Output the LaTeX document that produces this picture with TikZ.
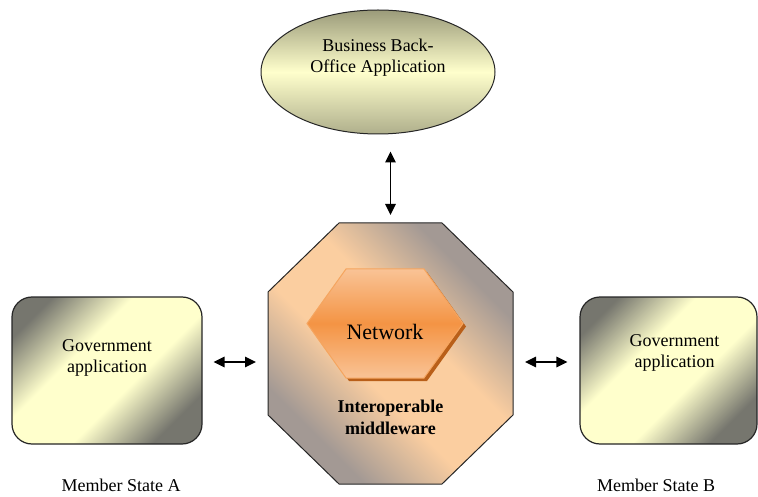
\documentclass[tikz,border=0pt]{standalone}
\usepackage{fontspec}
\setmainfont{Liberation Serif}
\usetikzlibrary{positioning,arrows.meta,shapes.geometric,shadows}

\definecolor{mwpeach}{RGB}{251,206,160}
\definecolor{mwgray}{RGB}{163,153,148}
\definecolor{appyellow}{RGB}{255,255,204}
\definecolor{appgray}{RGB}{118,118,110}
\definecolor{ovaltop}{RGB}{155,155,122}
\definecolor{ovalbottom}{RGB}{175,175,140}
\definecolor{netlight}{RGB}{249,195,150}
\definecolor{netmid}{RGB}{244,148,68}
\definecolor{netline}{RGB}{245,165,95}
\definecolor{netshadow}{RGB}{185,95,25}

\pgfdeclareverticalshading{mwshade}{100bp}{color(0bp)=(mwgray); color(28bp)=(mwgray); color(43bp)=(mwpeach); color(57bp)=(mwpeach); color(72bp)=(mwgray); color(100bp)=(mwgray)}
\pgfdeclareverticalshading{appshade}{100bp}{color(0bp)=(appgray); color(25bp)=(appgray); color(42bp)=(appyellow); color(60bp)=(appyellow); color(77bp)=(appgray); color(100bp)=(appgray)}

\begin{document}
\begin{tikzpicture}[x=1pt, y=-1pt, on grid,
    lbl/.style={font=\fontsize{18}{21}\selectfont, align=center, inner sep=0pt},
    frame/.style={rectangle, inner sep=0pt, outer sep=0pt},
    appbox/.style={rectangle, draw=black!85, line width=1.2pt, rounded corners=20pt,
        shade, shading=appshade, shading angle=45, minimum height=147pt},
    oval/.style={ellipse, draw=black!85, line width=1pt, inner sep=0pt,
        top color=ovaltop, bottom color=ovalbottom, middle color=appyellow,
        minimum width=234pt, minimum height=124pt},
    octo/.style={draw=black!85, line width=1pt, shade, shading=mwshade, shading angle=-45},
    hexa/.style={draw=netline, line width=1pt,
        top color=netlight, bottom color=netlight, middle color=netmid,
        drop shadow={shadow xshift=3pt, shadow yshift=-3pt, fill=netshadow, opacity=1}},
    arrow/.style={{Triangle[length=11pt,width=10.5pt]}-{Triangle[length=11pt,width=10.5pt]}, line width=1.6pt}]

\useasboundingbox (0,0) rectangle (758,497);

% middleware in the centre, everything else placed around it
\node[frame, minimum width=245pt, minimum height=261pt] (mw) at (390.5,353.5) {};
\node[frame, minimum width=156pt, minimum height=109pt, above=30pt of mw, xshift=-5.5pt] (net) {};
\node[oval, above=281.5pt of mw, xshift=-12.5pt] (backoffice) {};
\node[appbox, minimum width=190pt, left=283.5pt of mw, yshift=-17pt] (govA) {};
\node[appbox, minimum width=177pt, right=278pt of mw, yshift=-17pt] (govB) {};

% octagon and hexagon cut from their frames
\path[octo] ([xshift=71pt]mw.north west) -- ([xshift=-71pt]mw.north east)
    -- ([yshift=-69pt]mw.north east) -- ([yshift=69pt]mw.south east)
    -- ([xshift=-71pt]mw.south east) -- ([xshift=71pt]mw.south west)
    -- ([yshift=69pt]mw.south west) -- ([yshift=-69pt]mw.north west) -- cycle;
\path[hexa] (net.west) -- ([xshift=39pt]net.north west) -- ([xshift=-39pt]net.north east)
    -- (net.east) -- ([xshift=-39pt]net.south east) -- ([xshift=39pt]net.south west) -- cycle;

% texts
\node[lbl, above=14pt of backoffice] (backofficetext) {Business Back-\\Office Application};
\node[lbl, font=\fontsize{22}{26}\selectfont, below=8pt of net] (nettext) {Network};
\node[lbl, font=\fontsize{18}{22}\selectfont\bfseries, below=63.5pt of mw] (mwtext) {Interoperable\\middleware};
\node[lbl, above=12.5pt of govA] (govAtext) {Government\\application};
\node[lbl, above=18pt of govB, xshift=6pt] (govBtext) {Government\\application};
\node[lbl, below=114.5pt of govA, xshift=14pt] (stateA) {Member State A};
\node[lbl, below=114.5pt of govB, xshift=-12.5pt] (stateB) {Member State B};

% connectors
\draw[arrow, shorten <=17pt, shorten >=8pt] (backoffice.south -| mw.north) -- (mw.north);
\draw[arrow, shorten <=11pt, shorten >=12pt] ([yshift=8.5pt]govA.east) -- ([yshift=8.5pt]govA.east -| mw.west);
\draw[arrow, shorten <=12pt, shorten >=12pt] ([yshift=8.5pt]govB.west -| mw.east) -- ([yshift=8.5pt]govB.west);
\end{tikzpicture}
\end{document}
